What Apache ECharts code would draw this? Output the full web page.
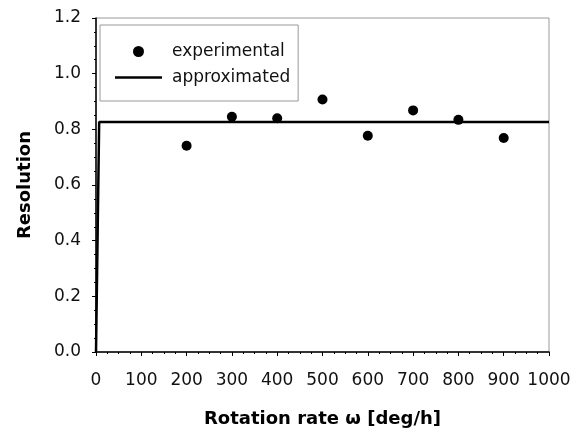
<!DOCTYPE html>
<html>
<head>
<meta charset="utf-8">
<script src="https://cdn.jsdelivr.net/npm/echarts@6/dist/echarts.min.js"></script>
<style>
html,body{margin:0;padding:0;background:#fff;}
#chart{width:586px;height:434px;}
</style>
</head>
<body>
<div id="chart"></div>
<script>
// measured points
var expRate = [200, 300, 400, 500, 600, 700, 800, 900];
var expRes = [0.741, 0.845, 0.840, 0.907, 0.777, 0.868, 0.834, 0.769];
// approximated curve (steps up right after zero, then flat)
var approxRate = [0, 7, 1000];
var approxRes = [0, 0.826, 0.826];

var expData = [];
for (var i = 0; i < expRate.length; i++) {
	expData.push([expRate[i], expRes[i]]);
}
var approxData = [];
for (var j = 0; j < approxRate.length; j++) {
	approxData.push([approxRate[j], approxRes[j]]);
}

var font = 'DejaVu Sans';
var chart = echarts.init(document.getElementById('chart'));
var option = {
	animation: false,
	grid: {
		left: 96, right: 37, top: 18, bottom: 82,
		show: true, borderColor: '#9a9a9a', borderWidth: 1
	},
	legend: {
		left: 100, top: 25,
		orient: 'vertical',
		padding: [18, 8, 15, 15],
		itemWidth: 47, itemHeight: 11, itemGap: 9,
		symbolKeepAspect: true,
		borderColor: '#999', borderWidth: 1,
		textStyle: { fontFamily: font, fontSize: 17, color: '#111', lineHeight: 17, padding: [0, 0, 0, 5] },
		data: [
			{ name: 'experimental', icon: 'circle' },
			{ name: 'approximated', icon: 'path://M0,0L47,0L47,2.5L0,2.5Z' }
		]
	},
	xAxis: {
		type: 'value', min: 0, max: 1000, interval: 100,
		name: 'Rotation rate \u03c9 [deg/h]',
		nameLocation: 'middle', nameGap: 58,
		nameTextStyle: { fontFamily: font, fontSize: 18, fontWeight: 'bold', color: '#000' },
		axisLine: { lineStyle: { color: '#000', width: 1.5 } },
		axisTick: { length: 4, lineStyle: { color: '#000' } },
		minorTick: { show: true, splitNumber: 4, length: 2, lineStyle: { color: '#000' } },
		axisLabel: {
			fontFamily: font, fontSize: 17, color: '#111', margin: 20,
			formatter: function (v) { return String(v); }
		},
		splitLine: { show: false }
	},
	yAxis: {
		type: 'value', min: 0, max: 1.2, interval: 0.2,
		name: 'Resolution',
		nameLocation: 'middle', nameGap: 62,
		nameTextStyle: { fontFamily: font, fontSize: 18, fontWeight: 'bold', color: '#000' },
		axisLine: { show: true, lineStyle: { color: '#000', width: 1.5 } },
		axisTick: { show: true, length: 4, lineStyle: { color: '#000' } },
		minorTick: { show: true, splitNumber: 4, length: 2, lineStyle: { color: '#000' } },
		axisLabel: {
			fontFamily: font, fontSize: 17, color: '#111', margin: 15,
			formatter: function (v) { return v.toFixed(1); }
		},
		splitLine: { show: false }
	},
	series: [
		{
			name: 'experimental',
			type: 'scatter',
			data: expData,
			symbol: 'circle',
			symbolSize: 10,
			itemStyle: { color: '#000', opacity: 1 },
			z: 3
		},
		{
			name: 'approximated',
			type: 'line',
			data: approxData,
			symbol: 'none',
			lineStyle: { color: '#000', width: 2.5 },
			itemStyle: { color: '#000' },
			z: 2
		}
	]
};
chart.setOption(option);
</script>
</body>
</html>
